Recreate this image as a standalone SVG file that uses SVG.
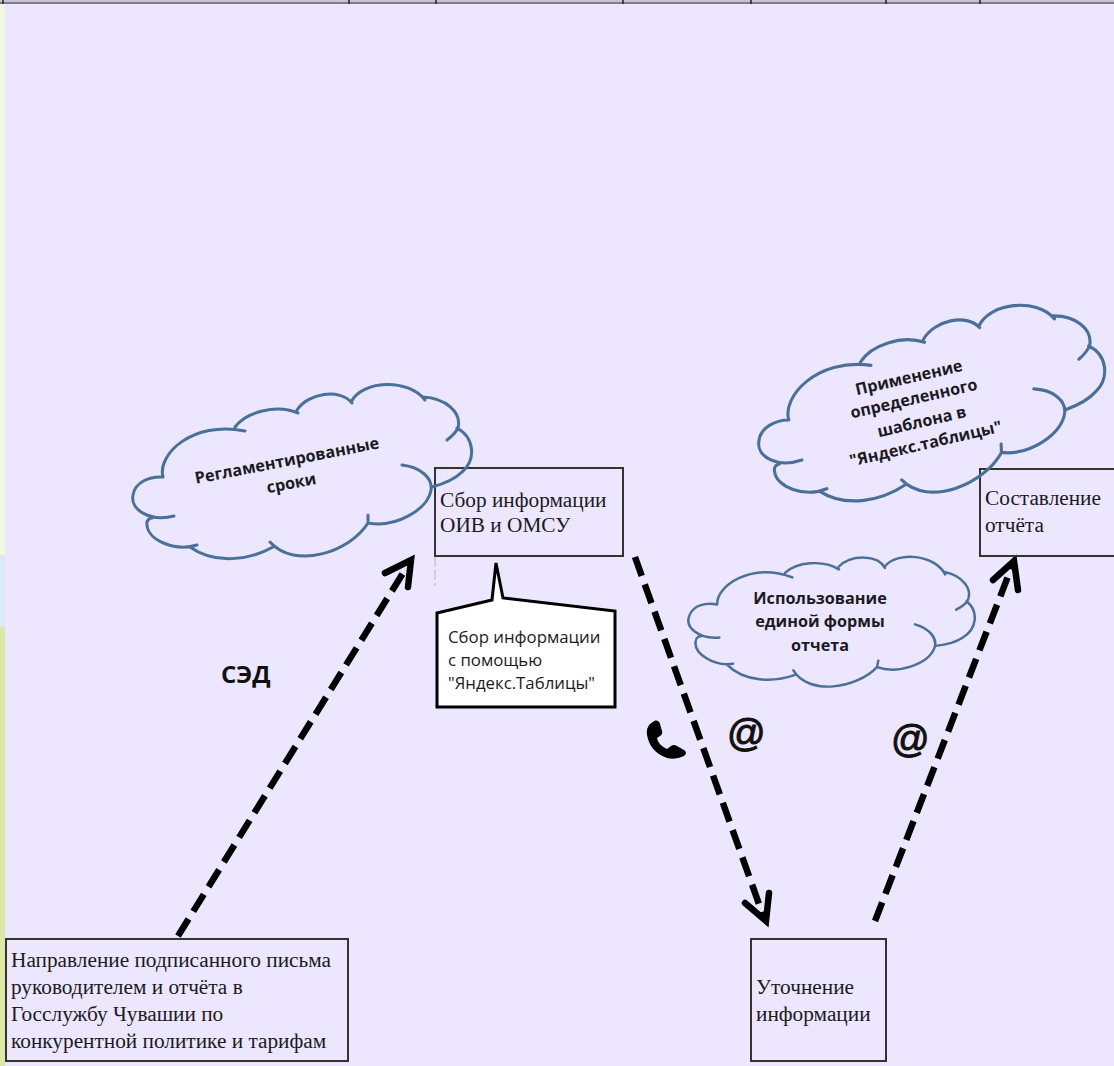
<svg xmlns="http://www.w3.org/2000/svg" width="1114" height="1066" viewBox="0 0 1114 1066">
<style>
.box{fill:none;stroke:#333;stroke-width:2}
.st{font-family:"Liberation Serif","Times New Roman",serif;font-size:21.3px;fill:#1a1a22}
.ss{font-family:"Open Sans","Liberation Sans",sans-serif;font-size:16.8px;fill:#1a1a22}
.sb{font-family:"Open Sans","Liberation Sans",sans-serif;font-size:16.2px;font-weight:700;fill:#1a1a22;text-anchor:middle}
.cloud{fill:none;stroke:#4a7098;stroke-width:3;vector-effect:non-scaling-stroke;stroke-linecap:round}
.dash{fill:none;stroke:#000;stroke-width:6.5;stroke-dasharray:20 9}
.head{fill:none;stroke:#000;stroke-width:6.5;stroke-linecap:round;stroke-linejoin:miter}
.at{font-family:"Liberation Sans",Arial,sans-serif;font-size:38px;fill:#111;stroke:#111;stroke-width:1}
</style>
<defs>
<path id="cloudShape" d="M163 477C157 455 192 420 245 431M235 427C246 412 276 404 298 413M297 410C308 393 340 388 352 403M351 402C362 380 408 378 425 400M423 397C445 398 462 412 458 428Q455 434 447 440M457 428C475 438 476 460 462 472C455 479 443 484 432 487M402 465C420 467 433 478 431 490C428 510 395 528 368 523M368 515L368 523C350 552 295 570 270 542M273 547C250 560 215 565 190 547M197 545C175 552 148 540 147 525C146 520 150 518 152 518M174 516C150 522 130 510 133 495C135 482 150 476 163 477"/>
</defs>
<rect width="1114" height="1066" fill="#ece7fe"/>
<rect x="0" y="0" width="5" height="555" fill="#eef8e2"/>
<rect x="0" y="555" width="5" height="72" fill="#dde8f6"/>
<rect x="0" y="627" width="5" height="439" fill="#dde8a4"/>
<g id="topRule">
<rect x="0" y="0" width="1114" height="2" fill="#c9c5d6"/>
<rect x="0" y="2" width="1114" height="2" fill="#7f7d8a"/>
<path d="M3 0V4M349 0V4M436 0V4M623 0V4M751 0V4M886 0V4M980 0V4" stroke="#222" stroke-width="1.5" fill="none"/>
</g>
<g id="connectors">
<path class="dash" d="M178 936L408 565"/>
<path class="head" d="M385 573L411 560L408 587"/>
<path class="dash" d="M635 557L764 918"/>
<path class="head" d="M745 903L766 921L769 893"/>
<path class="dash" d="M875 921L1012 566"/>
<path class="head" d="M993 580L1014 561L1018 590"/>
</g>
<g id="node-letter">
<rect class="box" x="6" y="939" width="342" height="122"/>
<text class="st"><tspan x="11" y="967">Направление подписанного письма</tspan><tspan x="11" y="994">руководителем и отчёта в</tspan><tspan x="11" y="1021">Госслужбу Чувашии по</tspan><tspan x="11" y="1048">конкурентной политике и тарифам</tspan></text>
</g>
<g id="node-collect">
<rect class="box" x="435" y="468" width="188" height="88"/>
<path d="M435 557V586" stroke="#b5b2c0" stroke-width="1" fill="none" stroke-dasharray="10 3"/>
<text class="st"><tspan x="440" y="507">Сбор информации</tspan><tspan x="440" y="532">ОИВ и ОМСУ</tspan></text>
</g>
<g id="node-clarify">
<rect class="box" x="751" y="939" width="135" height="122"/>
<text class="st"><tspan x="756" y="994">Уточнение</tspan><tspan x="756" y="1021">информации</tspan></text>
</g>
<g id="node-report">
<rect class="box" x="980" y="469" width="136" height="87"/>
<text class="st"><tspan x="985" y="505">Составление</tspan><tspan x="985" y="532">отчёта</tspan></text>
</g>
<g id="callout">
<path d="M437 613L492 600L496 563L503 598L615 611V707H437Z" fill="#fff" stroke="#000" stroke-width="3"/>
<text class="ss"><tspan x="448" y="643">Сбор информации</tspan><tspan x="448" y="666">с помощью</tspan><tspan x="448" y="689">"Яндекс.Таблицы"</tspan></text>
</g>
<g id="cloud-terms">
<use href="#cloudShape" class="cloud"/>
<text class="sb" transform="translate(288 466) rotate(-11)"><tspan x="0" y="0">Регламентированные</tspan><tspan x="0" y="23">сроки</tspan></text>
</g>
<g id="cloud-template">
<use href="#cloudShape" class="cloud" transform="matrix(1.027 -0.0772 0.045 1.05 600 -68.3)"/>
<text class="sb" transform="translate(910 383) rotate(-13)">Применение</text>
<text class="sb" transform="translate(915 404) rotate(-13)">определенного</text>
<text class="sb" transform="translate(923 427) rotate(-13)">шаблона в</text>
<text class="sb" transform="translate(927 449) rotate(-13)">"Яндекс.таблицы"</text>
</g>
<g id="cloud-form">
<use href="#cloudShape" class="cloud" transform="matrix(0.8187 0.1236 -0.176 0.81 667.7 198)"/>
<text class="sb"><tspan x="820" y="604">Использование</tspan><tspan x="820" y="627">единой формы</tspan><tspan x="820" y="651">отчета</tspan></text>
</g>
<g id="labels">
<text x="221" y="683" font-family="'Open Sans','Liberation Sans',sans-serif" font-size="24" font-weight="700" fill="#111">СЭД</text>
<text class="at" x="727" y="746">@</text>
<text class="at" x="891" y="752">@</text>
<path d="M647 735Q646 728 650 724L655 720.5Q659 720 660 724L662 731Q663 734 660 736L657 738Q658 745 667 749L671 746Q674 744 677 746L684 750Q688 753 684 756Q676 760 667 758Q650 752 647 735Z" fill="#000"/>
</g>
</svg>
